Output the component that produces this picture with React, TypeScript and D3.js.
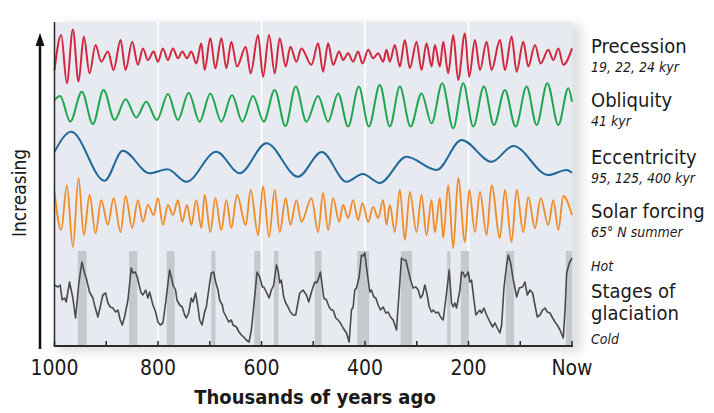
import React from 'react';
import * as d3 from 'd3';

// ---------- DATA (kyr ago, relative value) ----------
const tickKyr = [1000, 900, 800, 700, 600, 500, 400, 300, 200, 100, 0];
const labelKyr = [1000, 800, 600, 400, 200, 0];
const labelText = ['1000', '800', '600', '400', '200', 'Now'];
const gridKyr = [800, 600, 400, 200];

const precessionT = [1000, 987.1, 976.1, 964.5, 953.6, 943.3, 932.3, 920.7, 909.7, 896.8, 885.9, 872.3, 862.7, 849.8, 838.8, 829.1, 819.5, 808.5, 800.1, 790.5, 780.8, 771.1, 761.4, 753.1, 744.0, 735.6, 726.0, 716.3, 709.9, 698.9, 689.2, 677.6, 667.9, 658.3, 647.3, 630.5, 620.9, 606.7, 597.0, 585.4, 574.5, 564.8, 553.2, 544.2, 532.5, 522.9, 503.5, 490.6, 481.0, 471.3, 461.6, 450.0, 442.3, 432.6, 423.0, 413.3, 404.9, 393.9, 384.3, 374.6, 364.9, 358.5, 352.0, 342.4, 332.7, 323.0, 313.3, 300.4, 290.8, 281.1, 271.4, 265.0, 255.3, 248.9, 239.2, 229.5, 219.9, 207.0, 198.6, 187.6, 177.9, 165.0, 155.4, 139.3, 129.6, 116.7, 107.0, 94.1, 84.5, 71.6, 60.6, 45.8, 36.1, 26.4, 16.8, 0];
const precessionV = [-0.47, 0.76, -0.94, 0.96, -0.88, 0.71, -0.59, 0.41, -0.18, 0.18, -0.47, 0.59, -0.47, 0.53, -0.29, 0.29, -0.12, 0.18, -0.18, 0.29, -0.12, 0.29, -0.06, 0.18, -0.06, 0.18, -0.24, 0.47, -0.47, 0.65, -0.41, 0.65, -0.41, 0.53, -0.35, 0.35, -0.59, 0.76, -0.71, 0.76, -0.59, 0.65, -0.35, 0.35, -0.18, 0.29, -0.29, 0.47, -0.53, 0.47, -0.29, 0.18, -0.12, 0.12, -0.18, 0.18, -0.24, 0.24, -0.06, 0.12, -0.18, 0.24, -0.18, 0.41, -0.35, 0.59, -0.41, 0.53, -0.47, 0.47, -0.35, 0.41, -0.35, 0.53, -0.59, 0.76, -0.82, 0.82, -0.71, 0.59, -0.47, 0.53, -0.47, 0.59, -0.47, 0.71, -0.53, 0.53, -0.35, 0.41, -0.24, 0.24, -0.12, 0.29, -0.29, 0.29];

const obliquityT = [1000, 989.0, 969.7, 947.1, 925.9, 905.2, 883.9, 862.7, 842.0, 822.7, 802.1, 780.8, 761.4, 740.8, 719.5, 698.9, 677.6, 657.0, 637.0, 616.4, 595.7, 574.5, 553.8, 533.8, 513.2, 490.6, 471.3, 452.0, 432.6, 412.0, 392.6, 371.4, 352.0, 332.7, 312.0, 290.8, 271.4, 250.8, 229.5, 210.2, 190.8, 170.2, 150.9, 129.6, 109.0, 87.7, 68.3, 47.7, 26.4, 7.1, 0];
const obliquityV = [0.4, 0.62, -0.78, 0.85, -0.91, 0.95, -0.69, 0.44, -0.55, 0.31, -0.69, 0.73, -0.69, 0.80, -0.78, 0.76, -0.78, 0.67, -0.78, 0.62, -0.78, 0.95, -1.02, 1.13, -0.78, 0.62, -0.78, 0.76, -1.05, 1.13, -1.05, 1.22, -1.05, 1.13, -1.05, 0.76, -0.87, 1.31, -1.15, 1.31, -1.05, 1.13, -0.96, 0.95, -1.05, 1.13, -0.96, 1.31, -0.96, 1.04, 0.31];

const eccentricityT = [1000, 967.7, 903.3, 867.9, 816.2, 781.4, 745.3, 687.2, 642.2, 590.5, 529.4, 483.6, 435.8, 404.3, 371.4, 319.7, 261.7, 213.3, 155.3, 113.5, 45.8, 10.3, 0];
const eccentricityV = [0.21, 1.01, -0.95, 0.25, -0.65, -0.49, -0.99, 0.21, -0.65, 0.55, -0.79, 0.2, -0.99, -0.68, -1.04, 0.01, -0.52, 0.68, -0.19, 0.44, -0.72, -0.52, -0.63];

const solarT = [1000, 987.1, 976.1, 964.5, 953.6, 943.3, 932.3, 920.7, 909.7, 896.8, 885.9, 872.3, 862.7, 849.8, 838.8, 829.1, 819.5, 808.5, 800.1, 790.5, 780.8, 771.1, 761.4, 753.1, 744.0, 735.6, 726.0, 716.3, 709.9, 698.9, 689.2, 677.6, 667.9, 658.3, 647.3, 630.5, 620.9, 606.7, 597.0, 585.4, 574.5, 564.8, 553.2, 544.2, 532.5, 522.9, 503.5, 490.6, 481.0, 471.3, 461.6, 450.0, 442.3, 432.6, 423.0, 413.3, 404.9, 393.9, 384.3, 374.6, 364.9, 358.5, 352.0, 342.4, 332.7, 323.0, 313.3, 300.4, 290.8, 281.1, 271.4, 265.0, 255.3, 248.9, 239.2, 229.5, 219.9, 207.0, 198.6, 187.6, 177.9, 165.0, 155.4, 139.3, 129.6, 116.7, 107.0, 94.1, 84.5, 71.6, 60.6, 45.8, 36.1, 26.4, 16.8, 0];
const solarV = [0.59, -0.53, 0.79, -1.03, 1.00, -0.68, 0.50, -0.62, 0.35, -0.38, 0.41, -0.59, 0.47, -0.47, 0.35, -0.29, 0.21, -0.09, 0.41, -0.38, 0.21, -0.09, 0.35, -0.29, 0.21, -0.38, 0.35, -0.47, 0.50, -0.59, 0.41, -0.53, 0.35, -0.47, 0.50, -0.38, 0.65, -0.68, 0.76, -0.74, 0.65, -0.59, 0.41, -0.38, 0.35, -0.29, 0.41, -0.59, 0.56, -0.53, 0.41, -0.29, 0.21, -0.18, 0.35, -0.24, 0.26, -0.29, 0.15, -0.18, 0.35, -0.38, 0.21, -0.59, 0.65, -0.82, 0.59, -0.59, 0.50, -0.68, 0.35, -0.59, 0.41, -0.76, 0.79, -1.06, 1.00, -0.88, 0.65, -0.59, 0.59, -0.68, 0.79, -0.76, 0.65, -0.88, 0.65, -0.59, 0.44, -0.47, 0.41, -0.38, 0.35, -0.53, 0.47, -0.09];

const glacialT = [1000, 993.5, 989.0, 985.2, 980.6, 977.4, 971.0, 964.5, 959.4, 952.9, 947.1, 942.0, 938.7, 932.3, 925.8, 922.6, 916.2, 913.0, 906.5, 901.3, 896.8, 892.3, 887.2, 882.0, 877.5, 873.0, 869.1, 864.6, 858.1, 851.7, 848.5, 844.0, 840.1, 835.6, 832.4, 829.1, 824.0, 819.5, 816.2, 809.8, 804.6, 800.1, 795.6, 790.5, 785.3, 777.6, 774.3, 771.1, 766.0, 763.4, 758.2, 753.1, 748.5, 745.3, 740.8, 735.6, 732.4, 727.3, 722.8, 719.5, 715.0, 709.9, 706.6, 700.2, 697.0, 692.5, 688.6, 684.1, 680.9, 675.7, 673.1, 668.0, 663.4, 658.3, 655.1, 648.6, 643.4, 638.9, 634.4, 629.3, 624.1, 619.6, 613.2, 608.6, 603.5, 598.3, 595.7, 590.6, 585.4, 580.9, 576.4, 571.2, 568.0, 564.8, 561.6, 557.1, 553.2, 548.7, 544.2, 539.0, 533.9, 529.3, 526.1, 519.7, 513.2, 508.7, 503.5, 497.1, 493.9, 490.6, 486.1, 482.3, 479.7, 474.5, 469.4, 464.9, 461.6, 456.5, 452.0, 447.4, 442.3, 435.8, 430.7, 426.2, 422.9, 419.7, 416.5, 411.3, 406.8, 403.6, 400.4, 397.2, 390.7, 387.5, 383.0, 379.1, 374.6, 370.1, 364.9, 359.8, 355.2, 350.7, 345.6, 339.1, 332.7, 329.5, 324.9, 321.1, 316.6, 312.0, 306.9, 301.7, 297.2, 292.7, 288.8, 284.3, 279.8, 275.9, 271.4, 268.2, 263.1, 258.5, 254.0, 248.9, 242.4, 237.3, 232.8, 229.5, 226.3, 223.1, 216.6, 213.4, 210.2, 207.0, 203.7, 200.5, 197.3, 194.1, 189.5, 185.7, 181.2, 177.9, 174.7, 170.2, 165.0, 158.6, 153.4, 148.9, 144.4, 139.3, 136.0, 131.5, 126.4, 123.1, 118.6, 113.5, 110.2, 107.0, 101.9, 95.4, 90.9, 86.4, 81.2, 76.1, 71.6, 67.1, 61.9, 56.7, 52.2, 47.7, 42.6, 37.4, 32.9, 28.4, 23.2, 16.8, 13.5, 10.3, 5.2, 0];
const glacialV = [0.55, 0.53, 0.55, 0.40, 0.42, 0.38, 0.58, 0.42, 0.22, 0.57, 0.78, 0.67, 0.62, 0.48, 0.42, 0.35, 0.23, 0.30, 0.45, 0.47, 0.37, 0.33, 0.32, 0.28, 0.30, 0.20, 0.15, 0.23, 0.40, 0.72, 0.67, 0.68, 0.63, 0.53, 0.47, 0.45, 0.50, 0.42, 0.48, 0.35, 0.28, 0.18, 0.15, 0.17, 0.37, 0.70, 0.63, 0.55, 0.50, 0.40, 0.35, 0.33, 0.25, 0.22, 0.27, 0.42, 0.38, 0.47, 0.33, 0.20, 0.15, 0.28, 0.33, 0.57, 0.67, 0.68, 0.58, 0.50, 0.40, 0.35, 0.28, 0.23, 0.18, 0.20, 0.15, 0.13, 0.08, 0.05, 0.03, 0.00, -0.02, 0.10, 0.43, 0.68, 0.63, 0.53, 0.53, 0.48, 0.42, 0.50, 0.55, 0.75, 0.70, 0.57, 0.60, 0.43, 0.37, 0.33, 0.28, 0.25, 0.25, 0.38, 0.47, 0.50, 0.45, 0.38, 0.48, 0.58, 0.57, 0.60, 0.68, 0.53, 0.42, 0.40, 0.33, 0.30, 0.30, 0.22, 0.20, 0.17, 0.12, 0.07, -0.02, 0.30, 0.33, 0.50, 0.52, 0.63, 0.85, 0.84, 0.87, 0.73, 0.48, 0.50, 0.43, 0.42, 0.35, 0.30, 0.33, 0.27, 0.28, 0.23, 0.20, 0.10, 0.58, 0.82, 0.80, 0.80, 0.70, 0.60, 0.52, 0.53, 0.50, 0.42, 0.45, 0.55, 0.45, 0.33, 0.28, 0.30, 0.27, 0.28, 0.23, 0.20, 0.47, 0.70, 0.37, 0.33, 0.37, 0.32, 0.50, 0.68, 0.67, 0.63, 0.65, 0.68, 0.58, 0.60, 0.40, 0.25, 0.28, 0.30, 0.27, 0.32, 0.25, 0.18, 0.13, 0.17, 0.12, 0.07, 0.15, 0.52, 0.75, 0.85, 0.77, 0.60, 0.52, 0.43, 0.52, 0.53, 0.58, 0.45, 0.50, 0.47, 0.35, 0.23, 0.25, 0.30, 0.32, 0.28, 0.27, 0.22, 0.18, 0.15, 0.10, 0.02, 0.30, 0.67, 0.77, 0.82];

const interglacialStart = [955, 856, 783, 697, 614, 576, 497, 415, 331, 241, 215, 128, 12];
const interglacialEnd = [938, 840, 768, 689, 602, 567, 484, 392, 309, 235, 199, 112, 0];

// ---------- LAYOUT ----------
const W = 714;
const H = 413;
const left = 54.5;
const right = 572;
const top = 22;
const bottom = 346;
const FONT = "'Liberation Sans Narrow', 'DejaVu Sans Condensed', 'Roboto', sans-serif";

const x = d3.scaleLinear().domain([1000, 0]).range([left, right]);
const yPrec = d3.scaleLinear().domain([-1, 1]).range([85, 28.3]);
const yObl = d3.scaleLinear().domain([-1, 1]).range([125.7, 89]);
const yEcc = d3.scaleLinear().domain([-1, 1]).range([182, 132]);
const ySol = d3.scaleLinear().domain([-1, 1]).range([246, 178]);
const yGla = d3.scaleLinear().domain([0, 1]).range([340, 240]);

function pathFor(ts: number[], vs: number[], y: d3.ScaleLinear<number, number>, curve: d3.CurveFactory) {
  const pts: [number, number][] = ts.map((t, i) => [t, vs[i]]);
  return d3.line<[number, number]>().x(d => x(d[0])).y(d => y(d[1])).curve(curve)(pts) || '';
}

export default function App() {
  const prec = pathFor(precessionT, precessionV, yPrec, d3.curveMonotoneX);
  const obl = pathFor(obliquityT, obliquityV, yObl, d3.curveMonotoneX);
  const ecc = pathFor(eccentricityT, eccentricityV, yEcc, d3.curveMonotoneX);
  const sol = pathFor(solarT, solarV, ySol, d3.curveMonotoneX);
  const gla = pathFor(glacialT, glacialV, yGla, d3.curveLinear);

  const rightLabels = [
    { t: 'Precession', y: 53, s: 20, i: false },
    { t: '19, 22, 24 kyr', y: 72, s: 14, i: true },
    { t: 'Obliquity', y: 107, s: 20, i: false },
    { t: '41 kyr', y: 126, s: 14, i: true },
    { t: 'Eccentricity', y: 164, s: 20, i: false },
    { t: '95, 125, 400 kyr', y: 183, s: 14, i: true },
    { t: 'Solar forcing', y: 218, s: 20, i: false },
    { t: '65° N summer', y: 237, s: 14, i: true },
    { t: 'Hot', y: 271, s: 14, i: true },
    { t: 'Stages of', y: 298, s: 20, i: false },
    { t: 'glaciation', y: 320, s: 20, i: false },
    { t: 'Cold', y: 344, s: 14, i: true },
  ];

  return (
    <svg width={W} height={H} style={{ position: 'absolute', left: 0, top: 0, background: '#fff' }}>
      <defs>
        <filter id="shadow" x="-10%" y="-10%" width="130%" height="130%">
          <feGaussianBlur stdDeviation="5" />
        </filter>
      </defs>
      <rect x={left + 4} y={top + 2} width={right - left + 6} height={bottom - top + 4} fill="#c9ccd2" opacity={0.6} filter="url(#shadow)" />
      <rect x={left} y={top} width={right - left} height={bottom - top} fill="#e7eaf0" />
      {gridKyr.map(k => (
        <line key={k} x1={x(k)} x2={x(k)} y1={top} y2={bottom} stroke="#ffffff" strokeWidth={1.6} />
      ))}
      {interglacialStart.map((s, i) => (
        <rect key={i} x={x(s)} y={251} width={x(interglacialEnd[i]) - x(s)} height={bottom - 251} fill="#c5c8cd" />
      ))}
      <path d={prec} fill="none" stroke="#d0283f" strokeWidth={2} />
      <path d={obl} fill="none" stroke="#1ea64e" strokeWidth={2} />
      <path d={ecc} fill="none" stroke="#21699a" strokeWidth={2} />
      <path d={sol} fill="none" stroke="#f08a24" strokeWidth={1.8} />
      <path d={gla} fill="none" stroke="#4a4a4a" strokeWidth={1.6} strokeLinejoin="round" />
      {/* axes */}
      <line x1={left} x2={left} y1={top} y2={bottom} stroke="#2b2b2b" strokeWidth={1.5} />
      <line x1={left - 0.75} x2={right + 1} y1={bottom} y2={bottom} stroke="#2b2b2b" strokeWidth={2} />
      {tickKyr.map(k => (
        <line key={k} x1={x(k)} x2={x(k)} y1={bottom} y2={bottom - 5} stroke="#2b2b2b" strokeWidth={1.5} />
      ))}
      {labelKyr.map((k, i) => (
        <text key={k} x={x(k)} y={375} textAnchor="middle" fontFamily={FONT} fontSize={21} fill="#1a1a1a">{labelText[i]}</text>
      ))}
      <text x={315} y={404} textAnchor="middle" fontFamily={FONT} fontSize={20} fontWeight="bold" fill="#1a1a1a">Thousands of years ago</text>
      {/* arrow */}
      <line x1={40} x2={40} y1={349} y2={42} stroke="#111" strokeWidth={2.5} />
      <path d="M35.5,46 L40,33 L44.5,46 Z" fill="#111" />
      <text transform="translate(26,193) rotate(-90)" textAnchor="middle" fontFamily={FONT} fontSize={19} fill="#1a1a1a">Increasing</text>
      {rightLabels.map((l, i) => (
        <text key={i} x={591} y={l.y} fontFamily={FONT} fontSize={l.s} fontStyle={l.i ? 'italic' : 'normal'} fill="#1a1a1a">{l.t}</text>
      ))}
    </svg>
  );
}
